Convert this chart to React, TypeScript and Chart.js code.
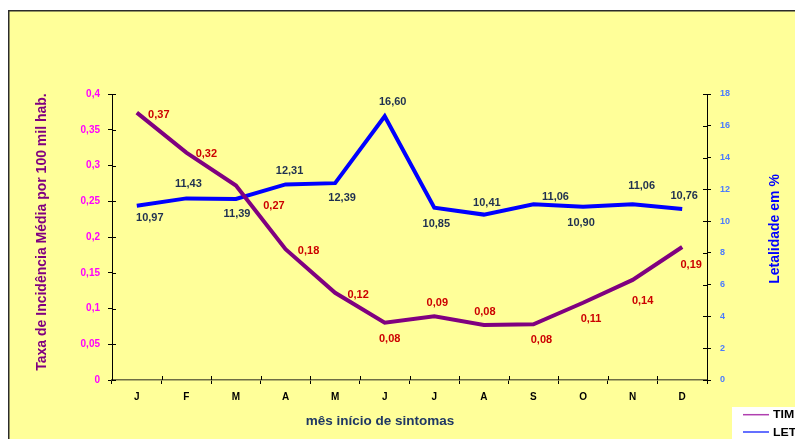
import React, { useEffect, useRef } from 'react';
import { Chart, registerables } from 'chart.js';

Chart.register(...registerables);

// Months (initials) on the category axis
const months = ['J', 'F', 'M', 'A', 'M', 'J', 'J', 'A', 'S', 'O', 'N', 'D'];

// TIM: average incidence rate per 100 thousand inhabitants
const incidenceRate = [0.374, 0.318, 0.272, 0.183, 0.122, 0.080, 0.089, 0.077, 0.078, 0.108, 0.140, 0.186];

// LET: lethality in %
const lethality = [10.97, 11.43, 11.39, 12.31, 12.39, 16.6, 10.85, 10.41, 11.06, 10.9, 11.06, 10.76];

// Axis ranges
const rateMax = 0.4;
const rateStep = 0.05;
const lethalityMax = 18;
const lethalityStep = 2;

// Where each value label sits relative to its point (dx, dy in px)
const rateLabelShift: [number, number][] = [
  [22, 2], [20, 1], [38, 20], [23, 2], [23, 2], [5, 16],
  [3, -13], [1, -13], [8, 16], [8, 16], [10, 21], [9, 18],
];
const lethalityLabelShift: [number, number][] = [
  [13, 12], [2, -14], [1, 15], [4, -13], [7, 15], [8, -14],
  [2, 16], [3, -12], [22, -7], [-2, 16], [9, -18], [2, -13],
];

const FONT = "'Liberation Sans', Arial, Helvetica, sans-serif";
const PURPLE = '#800080';
const BLUE = '#0000FF';
const CANVAS_W = 795;
const CANVAS_H = 431;

const comma = (v: number, digits: number) => v.toFixed(digits).replace('.', ',');

const decorPlugin = {
  id: 'decor',
  beforeDraw(chart: any) {
    const { ctx } = chart;
    ctx.save();
    ctx.fillStyle = '#FFFF99';
    ctx.fillRect(0, 2, CANVAS_W, CANVAS_H - 2);
    ctx.strokeStyle = '#2b2b2b';
    ctx.lineWidth = 1.5;
    ctx.beginPath();
    ctx.moveTo(0.75, CANVAS_H);
    ctx.lineTo(0.75, 2.75);
    ctx.lineTo(CANVAS_W, 2.75);
    ctx.stroke();
    ctx.restore();
  },
  afterDatasetsDraw(chart: any) {
    const { ctx } = chart;
    ctx.save();
    ctx.font = `bold 11px ${FONT}`;
    ctx.textAlign = 'center';
    ctx.textBaseline = 'middle';
    const specs = [
      { idx: 0, color: '#CC0000', digits: 2, shift: rateLabelShift },
      { idx: 1, color: '#1F3050', digits: 2, shift: lethalityLabelShift },
    ];
    specs.forEach((s) => {
      const meta = chart.getDatasetMeta(s.idx);
      const values = chart.data.datasets[s.idx].data as number[];
      meta.data.forEach((pt: any, i: number) => {
        const [dx, dy] = s.shift[i];
        ctx.fillStyle = s.color;
        ctx.fillText(comma(values[i], s.digits), pt.x + dx, pt.y + dy);
      });
    });
    ctx.restore();
  },
  afterDraw(chart: any) {
    const { ctx, chartArea, scales } = chart;
    const { left, right, bottom } = chartArea;
    ctx.save();

    // tick marks crossing into the plot area
    ctx.strokeStyle = '#000';
    ctx.lineWidth = 1;
    ctx.beginPath();
    scales.y.ticks.forEach((_t: any, i: number) => {
      const y = Math.round(scales.y.getPixelForTick(i)) + 0.5;
      ctx.moveTo(left, y);
      ctx.lineTo(left + 4, y);
    });
    scales.y1.ticks.forEach((_t: any, i: number) => {
      const y = Math.round(scales.y1.getPixelForTick(i)) + 0.5;
      ctx.moveTo(right - 4, y);
      ctx.lineTo(right, y);
    });
    const n = months.length;
    for (let i = 0; i <= n; i++) {
      const x = Math.round(left + (i * (right - left)) / n) + 0.5;
      ctx.moveTo(x, bottom - 4);
      ctx.lineTo(x, bottom);
    }
    ctx.stroke();

    // axis titles
    ctx.textAlign = 'center';
    ctx.textBaseline = 'middle';

    ctx.save();
    ctx.translate(34, 224);
    ctx.rotate(-Math.PI / 2);
    ctx.font = `bold 14px ${FONT}`;
    ctx.fillStyle = PURPLE;
    ctx.fillText('Taxa de Incidência Média por 100 mil hab.', 0, 0);
    ctx.restore();

    ctx.save();
    ctx.translate(767, 221);
    ctx.rotate(-Math.PI / 2);
    ctx.font = `bold 14px ${FONT}`;
    ctx.fillStyle = BLUE;
    ctx.fillText('Letalidade em %', 0, 0);
    ctx.restore();

    ctx.font = `bold 13.5px ${FONT}`;
    ctx.fillStyle = '#1F3864';
    ctx.fillText('mês início de sintomas', 372, 413);

    // legend
    ctx.fillStyle = '#FFFFFF';
    ctx.fillRect(724, 399, CANVAS_W - 724, CANVAS_H - 399);
    const items = [
      { label: chart.data.datasets[0].label, color: '#B040B0', y: 406.7 },
      { label: chart.data.datasets[1].label, color: '#3040FF', y: 424 },
    ];
    ctx.textAlign = 'left';
    items.forEach((it) => {
      ctx.strokeStyle = it.color;
      ctx.lineWidth = 1.5;
      ctx.beginPath();
      ctx.moveTo(735, it.y);
      ctx.lineTo(761, it.y);
      ctx.stroke();
      ctx.save();
      ctx.translate(765, it.y + 0.5);
      ctx.scale(1.12, 1);
      ctx.font = `bold 11px ${FONT}`;
      ctx.fillStyle = '#000';
      ctx.fillText(it.label, 0, 0);
      ctx.restore();
    });

    ctx.restore();
  },
};

export default function App() {
  const canvasRef = useRef<HTMLCanvasElement | null>(null);

  useEffect(() => {
    const canvas = canvasRef.current;
    if (!canvas) return;

    const chart = new Chart(canvas, {
      type: 'line',
      data: {
        labels: months,
        datasets: [
          {
            label: 'TIM',
            data: incidenceRate,
            yAxisID: 'y',
            borderColor: PURPLE,
            backgroundColor: PURPLE,
            borderWidth: 4,
            pointRadius: 0,
            tension: 0,
            fill: false,
          },
          {
            label: 'LET',
            data: lethality,
            yAxisID: 'y1',
            borderColor: BLUE,
            backgroundColor: BLUE,
            borderWidth: 4,
            pointRadius: 0,
            tension: 0,
            fill: false,
          },
        ],
      },
      options: {
        responsive: false,
        animation: false,
        devicePixelRatio: 1,
        layout: { padding: { top: 86, left: 0, right: 0, bottom: 0 } },
        plugins: {
          legend: { display: false },
          tooltip: { enabled: false },
          title: { display: false },
        },
        scales: {
          x: {
            type: 'category',
            offset: true,
            grid: {
              display: true,
              drawOnChartArea: false,
              drawTicks: true,
              tickLength: 4,
              color: '#000',
              offset: true,
            },
            border: { display: true, color: '#6E6E45', width: 1.5 },
            ticks: {
              color: '#000',
              font: { family: FONT, size: 10, weight: 'bold' },
              padding: 7,
              maxRotation: 0,
              autoSkip: false,
            },
            afterFit: (s: any) => {
              s.height = 59;
            },
          },
          y: {
            position: 'left',
            min: 0,
            max: rateMax,
            grid: {
              display: true,
              drawOnChartArea: false,
              drawTicks: true,
              tickLength: 4,
              color: '#000',
            },
            border: { display: true, color: '#000', width: 1 },
            ticks: {
              stepSize: rateStep,
              color: '#FF00FF',
              font: { family: FONT, size: 10, weight: 'bold' },
              padding: 8,
              callback: (v: any) => String(Number(Number(v).toFixed(2))).replace('.', ','),
            },
            afterFit: (s: any) => {
              s.width = 104;
            },
          },
          y1: {
            position: 'right',
            min: 0,
            max: lethalityMax,
            grid: {
              display: true,
              drawOnChartArea: false,
              drawTicks: true,
              tickLength: 4,
              color: '#000',
            },
            border: { display: true, color: '#000', width: 1 },
            ticks: {
              stepSize: lethalityStep,
              color: '#4A7BFF',
              font: { family: FONT, size: 9, weight: 'bold' },
              padding: 9,
            },
            afterFit: (s: any) => {
              s.width = 96;
            },
          },
        },
      },
      plugins: [decorPlugin],
    });

    return () => chart.destroy();
  }, []);

  return (
    <canvas
      ref={canvasRef}
      width={CANVAS_W}
      height={CANVAS_H}
      style={{ display: 'block', width: CANVAS_W, height: CANVAS_H }}
    />
  );
}
